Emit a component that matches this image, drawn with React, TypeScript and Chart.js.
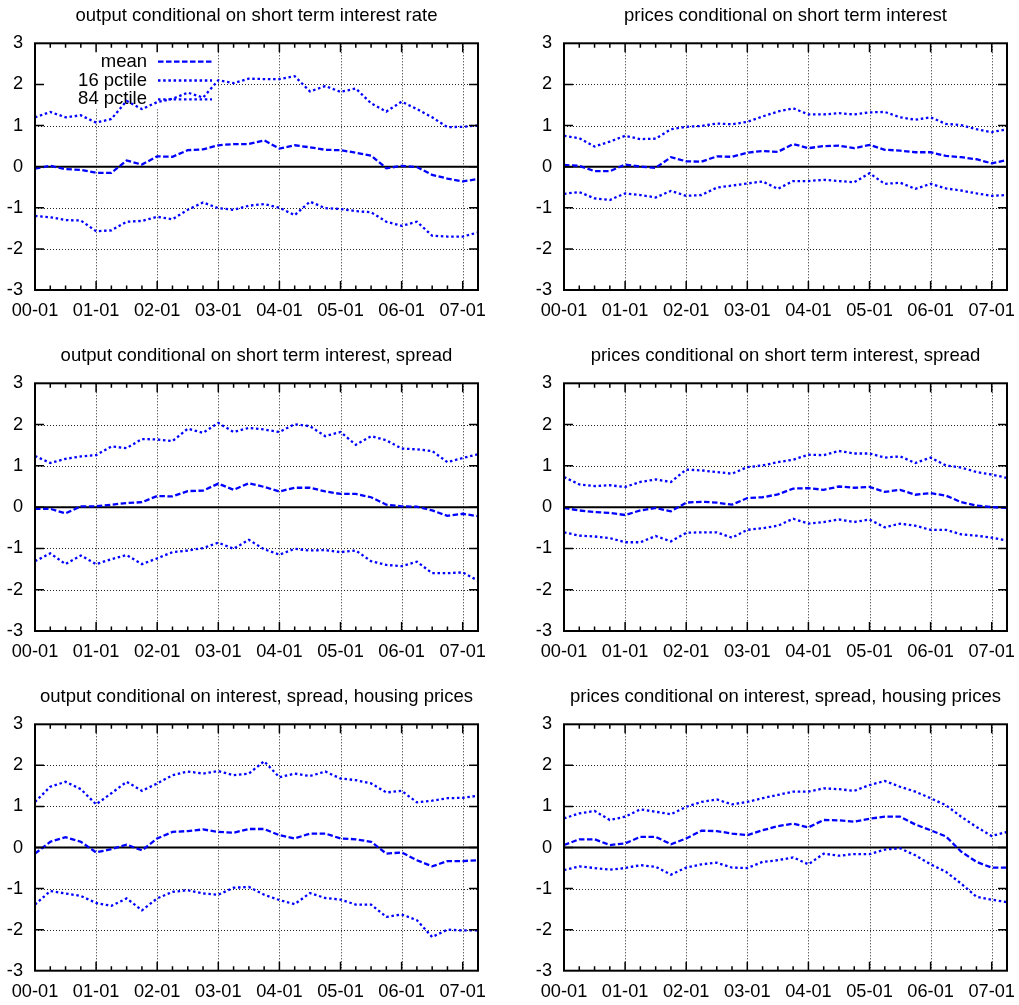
import React, { useEffect, useRef } from 'react';
import { Chart, registerables } from 'chart.js';

Chart.register(...registerables);

const quarters = [
  '00-01', '00-04', '00-07', '00-10', '01-01', '01-04', '01-07', '01-10',
  '02-01', '02-04', '02-07', '02-10', '03-01', '03-04', '03-07', '03-10',
  '04-01', '04-04', '04-07', '04-10', '05-01', '05-04', '05-07', '05-10',
  '06-01', '06-04', '06-07', '06-10', '07-01', '07-04',
];
const yearLabels = ['00-01', '01-01', '02-01', '03-01', '04-01', '05-01', '06-01', '07-01'];
const yTicks = [-3, -2, -1, 0, 1, 2, 3];
const seriesNames = ['mean', '16 pctile', '84 pctile'];

const titles = [
  'output conditional on short term interest rate',
  'prices conditional on short term interest',
  'output conditional on short term interest, spread',
  'prices conditional on short term interest, spread',
  'output conditional on interest, spread, housing prices',
  'prices conditional on interest, spread, housing prices',
];

// Panel 1: output | short term interest rate
const p1Mean = [-0.05, 0.02, -0.06, -0.08, -0.15, -0.15, 0.15, 0.05, 0.25, 0.24, 0.4, 0.42, 0.52, 0.55, 0.55, 0.64, 0.44, 0.52, 0.47, 0.41, 0.4, 0.34, 0.27, -0.04, 0.02, -0.01, -0.2, -0.29, -0.36, -0.3];
const p1Lo = [-1.2, -1.23, -1.3, -1.31, -1.57, -1.55, -1.34, -1.32, -1.22, -1.28, -1.05, -0.87, -1.01, -1.05, -0.95, -0.91, -1.0, -1.18, -0.85, -1.01, -1.03, -1.08, -1.11, -1.34, -1.44, -1.34, -1.68, -1.7, -1.7, -1.6];
const p1Hi = [1.2, 1.33, 1.2, 1.25, 1.07, 1.16, 1.6, 1.4, 1.57, 1.65, 1.8, 1.68, 2.1, 2.03, 2.14, 2.13, 2.13, 2.2, 1.83, 1.96, 1.82, 1.9, 1.54, 1.34, 1.58, 1.4, 1.2, 0.96, 0.97, 1.0];

// Panel 2: prices | short term interest
const p2Mean = [0.04, 0.02, -0.11, -0.11, 0.05, 0.0, -0.03, 0.23, 0.13, 0.12, 0.25, 0.24, 0.34, 0.38, 0.36, 0.55, 0.45, 0.5, 0.51, 0.45, 0.53, 0.41, 0.39, 0.35, 0.35, 0.26, 0.23, 0.18, 0.08, 0.16];
const p2Lo = [-0.66, -0.62, -0.77, -0.81, -0.65, -0.69, -0.75, -0.59, -0.71, -0.69, -0.51, -0.46, -0.41, -0.36, -0.54, -0.35, -0.35, -0.32, -0.35, -0.38, -0.16, -0.42, -0.39, -0.54, -0.42, -0.53, -0.58, -0.65, -0.71, -0.69];
const p2Hi = [0.75, 0.69, 0.49, 0.61, 0.75, 0.67, 0.68, 0.91, 0.97, 0.99, 1.05, 1.03, 1.09, 1.22, 1.34, 1.42, 1.27, 1.27, 1.3, 1.27, 1.32, 1.33, 1.2, 1.14, 1.2, 1.04, 1.01, 0.91, 0.84, 0.91];

// Panel 3: output | short term interest, spread
const p3Mean = [-0.04, -0.04, -0.15, 0.02, 0.02, 0.06, 0.1, 0.12, 0.27, 0.26, 0.39, 0.4, 0.57, 0.42, 0.58, 0.49, 0.38, 0.47, 0.47, 0.38, 0.32, 0.32, 0.24, 0.06, 0.02, 0.01, -0.08, -0.21, -0.16, -0.22];
const p3Lo = [-1.31, -1.12, -1.38, -1.17, -1.38, -1.26, -1.16, -1.38, -1.24, -1.09, -1.05, -0.99, -0.86, -1.01, -0.79, -1.02, -1.15, -1.01, -1.05, -1.04, -1.09, -1.05, -1.31, -1.4, -1.43, -1.32, -1.6, -1.6, -1.58, -1.78];
const p3Hi = [1.24, 1.07, 1.17, 1.23, 1.26, 1.47, 1.43, 1.65, 1.64, 1.6, 1.9, 1.8, 2.04, 1.82, 1.92, 1.88, 1.82, 2.01, 1.96, 1.72, 1.82, 1.51, 1.72, 1.62, 1.42, 1.4, 1.36, 1.09, 1.19, 1.28];

// Panel 4: prices | short term interest, spread
const p4Mean = [-0.02, -0.08, -0.12, -0.14, -0.19, -0.08, -0.02, -0.1, 0.11, 0.13, 0.11, 0.06, 0.22, 0.24, 0.31, 0.45, 0.46, 0.42, 0.5, 0.47, 0.49, 0.37, 0.42, 0.3, 0.34, 0.28, 0.12, 0.04, 0.0, -0.02];
const p4Lo = [-0.61, -0.69, -0.71, -0.75, -0.85, -0.85, -0.7, -0.83, -0.62, -0.61, -0.61, -0.74, -0.55, -0.51, -0.45, -0.28, -0.4, -0.36, -0.3, -0.36, -0.3, -0.49, -0.4, -0.45, -0.55, -0.55, -0.66, -0.69, -0.74, -0.81];
const p4Hi = [0.73, 0.55, 0.51, 0.53, 0.49, 0.61, 0.67, 0.61, 0.91, 0.89, 0.85, 0.81, 0.97, 1.01, 1.09, 1.15, 1.27, 1.26, 1.36, 1.3, 1.3, 1.2, 1.23, 1.07, 1.2, 1.01, 0.96, 0.85, 0.79, 0.71];

// Panel 5: output | interest, spread, housing prices
const p5Mean = [-0.15, 0.14, 0.25, 0.14, -0.12, -0.04, 0.07, -0.07, 0.22, 0.38, 0.4, 0.44, 0.38, 0.36, 0.45, 0.45, 0.3, 0.22, 0.34, 0.34, 0.22, 0.2, 0.14, -0.15, -0.12, -0.31, -0.46, -0.33, -0.33, -0.31];
const p5Lo = [-1.39, -1.06, -1.12, -1.18, -1.35, -1.42, -1.24, -1.53, -1.24, -1.08, -1.04, -1.12, -1.15, -0.98, -0.96, -1.15, -1.28, -1.38, -1.11, -1.23, -1.27, -1.39, -1.39, -1.69, -1.63, -1.77, -2.18, -2.0, -2.02, -2.02];
const p5Hi = [1.11, 1.48, 1.6, 1.42, 1.05, 1.32, 1.6, 1.38, 1.56, 1.76, 1.85, 1.8, 1.86, 1.76, 1.8, 2.1, 1.71, 1.8, 1.74, 1.85, 1.68, 1.64, 1.56, 1.34, 1.38, 1.1, 1.14, 1.2, 1.21, 1.26];

// Panel 6: prices | interest, spread, housing prices
const p6Mean = [0.06, 0.2, 0.2, 0.06, 0.1, 0.26, 0.26, 0.08, 0.22, 0.41, 0.4, 0.34, 0.3, 0.42, 0.52, 0.58, 0.49, 0.67, 0.66, 0.63, 0.7, 0.75, 0.75, 0.56, 0.42, 0.27, -0.1, -0.35, -0.49, -0.49];
const p6Lo = [-0.55, -0.46, -0.5, -0.54, -0.5, -0.43, -0.47, -0.66, -0.49, -0.41, -0.37, -0.49, -0.5, -0.35, -0.31, -0.24, -0.41, -0.15, -0.2, -0.16, -0.16, -0.05, -0.02, -0.19, -0.41, -0.59, -0.88, -1.2, -1.27, -1.33];
const p6Hi = [0.71, 0.83, 0.89, 0.67, 0.75, 0.93, 0.87, 0.81, 0.99, 1.11, 1.17, 1.05, 1.11, 1.2, 1.28, 1.36, 1.36, 1.44, 1.42, 1.38, 1.52, 1.62, 1.48, 1.36, 1.2, 1.03, 0.75, 0.5, 0.28, 0.38];

const panelSeries = [
  [p1Mean, p1Lo, p1Hi],
  [p2Mean, p2Lo, p2Hi],
  [p3Mean, p3Lo, p3Hi],
  [p4Mean, p4Lo, p4Hi],
  [p5Mean, p5Lo, p5Hi],
  [p6Mean, p6Lo, p6Hi],
];

// layout (pixels)
const rowTops = [0, 330, 665];
const rowHeights = [330, 335, 340];
const chartTops = [43.3, 53.3, 59.3];
const chartBottoms = [290, 301, 305.7];
const colLefts = [0, 509];
const colWidths = [509, 510];
const yAxisWidths = [35, 55];
const rightPads = [31, 12];

const FONT = "'Liberation Sans', Arial, Helvetica, sans-serif";
const BLUE = '#0000ff';
const TITLE_SIZE = 18.5;
const TICK_SIZE = 18.2;
const TITLE_PAD_BOTTOM = 16.2;
const LINE_W = 2.3;

function makeFramePlugin(withKey: boolean) {
  return {
    id: 'gnuframe',
    beforeDatasetsDraw(chart: any) {
      const { ctx, chartArea: a } = chart;
      const xs = chart.scales.x;
      const ys = chart.scales.y;
      ctx.save();
      // dotted grid
      ctx.lineWidth = 1;
      ctx.strokeStyle = '#222222';
      ctx.setLineDash([1, 2]);
      yearLabels.forEach((lbl) => {
        const i = quarters.indexOf(lbl);
        if (i <= 0 || i >= quarters.length - 1) return;
        const px = Math.round(xs.getPixelForValue(i)) + 0.5;
        ctx.beginPath();
        ctx.moveTo(px, a.top);
        ctx.lineTo(px, a.bottom);
        ctx.stroke();
      });
      yTicks.forEach((v) => {
        if (v === 0 || v === yTicks[0] || v === yTicks[yTicks.length - 1]) return;
        const py = Math.round(ys.getPixelForValue(v)) + 0.5;
        ctx.beginPath();
        ctx.moveTo(a.left, py);
        ctx.lineTo(a.right, py);
        ctx.stroke();
      });
      ctx.setLineDash([]);
      // opaque key area
      if (withKey) {
        ctx.fillStyle = '#ffffff';
        ctx.fillRect(a.left + 1, a.top + 1, 179, 65);
      }
      // zero axis
      ctx.strokeStyle = '#000';
      ctx.lineWidth = 2;
      const zy = ys.getPixelForValue(0);
      ctx.beginPath();
      ctx.moveTo(a.left, zy);
      ctx.lineTo(a.right, zy);
      ctx.stroke();
      // key
      if (withKey) {
        ctx.font = `${TITLE_SIZE}px ${FONT}`;
        ctx.textAlign = 'right';
        ctx.textBaseline = 'middle';
        ctx.fillStyle = '#000';
        const rows = [18.4, 37.2, 56];
        chart.data.datasets.forEach((ds: any, k: number) => {
          const ry = a.top + rows[k];
          ctx.fillText(ds.label, a.left + 112, ry);
          ctx.save();
          ctx.strokeStyle = ds.borderColor;
          ctx.lineWidth = ds.borderWidth;
          ctx.setLineDash(ds.borderDash);
          ctx.beginPath();
          ctx.moveTo(a.left + 123, ry);
          ctx.lineTo(a.left + 177, ry);
          ctx.stroke();
          ctx.restore();
        });
      }
      ctx.restore();
    },
    afterDatasetsDraw(chart: any) {
      const { ctx, chartArea: a } = chart;
      const xs = chart.scales.x;
      const ys = chart.scales.y;
      ctx.save();
      ctx.strokeStyle = '#000';
      ctx.lineWidth = 1.5;
      ctx.setLineDash([]);
      // ticks on x (inward, top and bottom)
      quarters.forEach((q, i) => {
        if (i === 0 || i === quarters.length - 1) return;
        const len = yearLabels.includes(q) ? 9 : 4.5;
        const px = xs.getPixelForValue(i);
        ctx.beginPath();
        ctx.moveTo(px, a.bottom);
        ctx.lineTo(px, a.bottom - len);
        ctx.moveTo(px, a.top);
        ctx.lineTo(px, a.top + len);
        ctx.stroke();
      });
      yTicks.forEach((v) => {
        if (v === yTicks[0] || v === yTicks[yTicks.length - 1]) return;
        const py = ys.getPixelForValue(v);
        ctx.beginPath();
        ctx.moveTo(a.left, py);
        ctx.lineTo(a.left + 9, py);
        ctx.moveTo(a.right, py);
        ctx.lineTo(a.right - 9, py);
        ctx.stroke();
      });
      // border
      ctx.lineWidth = 2;
      ctx.strokeRect(a.left, a.top, a.right - a.left, a.bottom - a.top);
      ctx.restore();
    },
  };
}

function Panel({ index }: { index: number }) {
  const ref = useRef<HTMLCanvasElement | null>(null);
  const row = Math.floor(index / 2);
  const col = index % 2;
  const width = colWidths[col];
  const height = rowHeights[row];

  useEffect(() => {
    if (!ref.current) return;
    const [mean, lo, hi] = panelSeries[index];
    const padTop = chartTops[row] - (TITLE_SIZE * 1.2 + TITLE_PAD_BOTTOM);
    const xh = height - chartBottoms[row];
    const yw = yAxisWidths[col];
    const chart = new Chart(ref.current, {
      type: 'line',
      data: {
        labels: quarters,
        datasets: [
          { label: seriesNames[0], data: mean, borderColor: BLUE, borderWidth: LINE_W, borderDash: [5.5, 2.5], pointRadius: 0, fill: false, tension: 0 },
          { label: seriesNames[1], data: lo, borderColor: BLUE, borderWidth: LINE_W, borderDash: [2.5, 2.7], pointRadius: 0, fill: false, tension: 0 },
          { label: seriesNames[2], data: hi, borderColor: BLUE, borderWidth: LINE_W, borderDash: [2.5, 2.7], pointRadius: 0, fill: false, tension: 0 },
        ],
      },
      options: {
        animation: false,
        responsive: false,
        events: [],
        layout: { padding: { top: padTop, right: rightPads[col], bottom: 0, left: 0 } },
        plugins: {
          legend: { display: false },
          tooltip: { enabled: false },
          title: {
            display: true,
            text: titles[index],
            fullSize: false,
            color: '#000',
            font: { family: FONT, size: TITLE_SIZE, weight: 'normal', lineHeight: 1.2 },
            padding: { top: 0, bottom: TITLE_PAD_BOTTOM },
          },
        },
        scales: {
          x: {
            type: 'category',
            grid: { display: false, drawTicks: false },
            border: { display: false },
            ticks: {
              autoSkip: false,
              maxRotation: 0,
              minRotation: 0,
              padding: 10,
              color: '#000',
              font: { family: FONT, size: TICK_SIZE },
              callback: (_v: any, idx: number) => (yearLabels.includes(quarters[idx]) ? quarters[idx] : ''),
            },
            afterFit: (s: any) => { s.height = xh; },
          },
          y: {
            min: yTicks[0],
            max: yTicks[yTicks.length - 1],
            grid: { display: false, drawTicks: false },
            border: { display: false },
            ticks: {
              stepSize: 1,
              padding: 12,
              color: '#000',
              font: { family: FONT, size: TICK_SIZE },
              callback: (v: any) => String(v),
            },
            afterFit: (s: any) => { s.width = yw; },
          },
        },
      } as any,
      plugins: [makeFramePlugin(index === 0)],
    });
    return () => chart.destroy();
  }, [index]);

  return (
    <canvas
      ref={ref}
      width={width}
      height={height}
      style={{ position: 'absolute', left: colLefts[col], top: rowTops[row], width, height }}
    />
  );
}

export default function App() {
  return (
    <div style={{ position: 'absolute', left: 0, top: 0, width: 1019, height: 1005, background: '#fff' }}>
      {[0, 1, 2, 3, 4, 5].map((i) => (
        <Panel key={i} index={i} />
      ))}
    </div>
  );
}
